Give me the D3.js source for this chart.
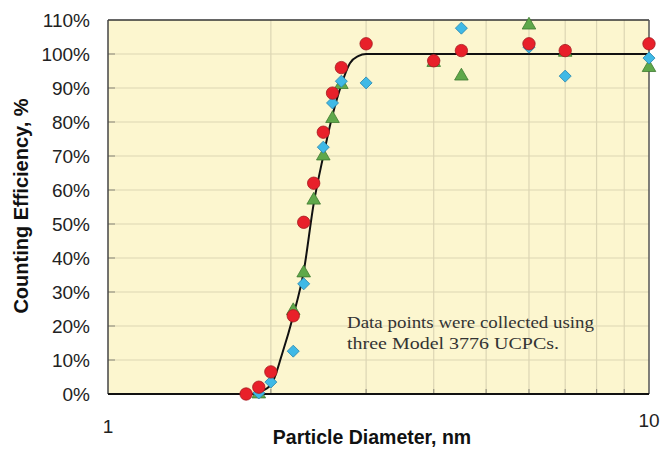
<!DOCTYPE html>
<html>
<head>
<meta charset="utf-8">
<script src="https://cdn.jsdelivr.net/npm/d3@7"></script>
<style>
  body { margin: 0; background: #fff; }
  svg { display: block; }
</style>
</head>
<body>
<svg id="chart" width="662" height="449"></svg>
<script>
// particle diameters (nm) where the three counters were measured
let diameters = [1.8, 1.9, 2.0, 2.2, 2.3, 2.4, 2.5, 2.6, 2.7, 3.0, 4.0, 4.5, 6.0, 7.0, 10];
let redEff   = [0, 2, 6.5, 23, 50.5, 62, 77, 88.5, 96, 103, 98, 101, 103, 101, 103];
let blueEff  = [null, 0.3, 3.5, 12.6, 32.4, null, 72.6, 85.6, 92, 91.5, 98, 107.6, 102, 93.5, 98.8];
let greenEff = [null, 0, null, 24.5, 35.6, 57, 70, 81, 91, null, 97.5, 93.5, 108.5, 100.5, 96];

// fitted curve
let fitX = [1, 1.85, 1.9, 2.0, 2.1, 2.2, 2.3, 2.4, 2.5, 2.6, 2.7, 2.8, 2.9, 3.0, 10];
let fitY = [0, 0, 0.6, 2.6, 12, 23, 36, 56, 70, 82, 91, 97.3, 99.4, 100, 100];

let yTicks = [0, 10, 20, 30, 40, 50, 60, 70, 80, 90, 100, 110];
let xGrid = [2, 3, 4, 5, 6, 7, 8, 9];
let xLabels = [1, 10];

let margin = {top: 20, right: 13, bottom: 55, left: 108};
let width = 662 - margin.left - margin.right;
let height = 449 - margin.top - margin.bottom;

let svg = d3.select("#chart");
let g = svg.append("g").attr("transform", `translate(${margin.left},${margin.top})`);

let x = d3.scaleLog().domain([1, 10]).range([0, width]);
let y = d3.scaleLinear().domain([0, 110]).range([height, 0]);

g.append("rect")
  .attr("width", width).attr("height", height)
  .attr("fill", "#fcf6cf");

// grid
g.selectAll("line.hgrid")
  .data(yTicks.slice(1, -1))
  .enter().append("line")
  .attr("x1", 0).attr("x2", width)
  .attr("y1", d => y(d)).attr("y2", d => y(d))
  .attr("stroke", "#dcd6b4").attr("stroke-width", 1.2);

g.selectAll("line.vgrid")
  .data(xGrid)
  .enter().append("line")
  .attr("x1", d => x(d)).attr("x2", d => x(d))
  .attr("y1", 0).attr("y2", height)
  .attr("stroke", "#dcd6b4").attr("stroke-width", 1.2);

// small inner ticks
g.selectAll("line.ytick")
  .data(yTicks.slice(1, -1))
  .enter().append("line")
  .attr("x1", 0).attr("x2", 7)
  .attr("y1", d => y(d)).attr("y2", d => y(d))
  .attr("stroke", "#9a9684").attr("stroke-width", 1.2);

g.selectAll("line.xtick")
  .data(xGrid)
  .enter().append("line")
  .attr("x1", d => x(d)).attr("x2", d => x(d))
  .attr("y1", height).attr("y2", height - 5)
  .attr("stroke", "#9a9684").attr("stroke-width", 1.2);

// frame
g.append("line").attr("x1", 0).attr("x2", width).attr("y1", 0).attr("y2", 0)
  .attr("stroke", "#333").attr("stroke-width", 1.5);
g.append("line").attr("x1", width).attr("x2", width).attr("y1", 0).attr("y2", height)
  .attr("stroke", "#555").attr("stroke-width", 1.5);
g.append("line").attr("x1", 0).attr("x2", 0).attr("y1", 0).attr("y2", height)
  .attr("stroke", "#444").attr("stroke-width", 1.5);

// fitted line
let fit = fitX.map((d, i) => [d, fitY[i]]);
g.append("path")
  .datum(fit)
  .attr("fill", "none")
  .attr("stroke", "#111")
  .attr("stroke-width", 2)
  .attr("d", d3.line().x(d => x(d[0])).y(d => y(d[1])).curve(d3.curveMonotoneX));

g.append("line").attr("x1", 0).attr("x2", width).attr("y1", height).attr("y2", height)
  .attr("stroke", "#111").attr("stroke-width", 2.2);

function pts(vals) {
  return diameters.map((d, i) => ({d: d, v: vals[i]})).filter(p => p.v !== null);
}

// green triangles (bottom layer)
g.selectAll("path.tri")
  .data(pts(greenEff))
  .enter().append("path")
  .attr("transform", d => `translate(${x(d.d)},${y(d.v)})`)
  .attr("d", d3.symbol().type(d3.symbolTriangle).size(80))
  .attr("fill", "#5fa84a")
  .attr("stroke", "#3d7a30").attr("stroke-width", 0.8);

// blue diamonds
g.selectAll("path.dia")
  .data(pts(blueEff))
  .enter().append("path")
  .attr("transform", d => `translate(${x(d.d)},${y(d.v)}) rotate(45)`)
  .attr("d", d3.symbol().type(d3.symbolSquare).size(72))
  .attr("fill", "#3fb9e6")
  .attr("stroke", "#2a88b0").attr("stroke-width", 0.8);

// red circles (top)
g.selectAll("circle.red")
  .data(pts(redEff))
  .enter().append("circle")
  .attr("cx", d => x(d.d)).attr("cy", d => y(d.v))
  .attr("r", 6.2)
  .attr("fill", "#e8202a")
  .attr("stroke", "#a31a1f").attr("stroke-width", 0.8);

// y tick labels
g.selectAll("text.ylab")
  .data(yTicks)
  .enter().append("text")
  .attr("x", -18).attr("y", d => y(d))
  .attr("dy", "0.36em")
  .attr("text-anchor", "end")
  .attr("font-family", "Liberation Sans, Arial, sans-serif")
  .attr("font-size", 19)
  .attr("fill", "#222")
  .text(d => d + "%");

// x tick labels
g.selectAll("text.xlab")
  .data(xLabels)
  .enter().append("text")
  .attr("x", d => x(d)).attr("y", d => d === 1 ? height + 39 : height + 33)
  .attr("text-anchor", "middle")
  .attr("font-family", "Liberation Sans, Arial, sans-serif")
  .attr("font-size", 19)
  .attr("fill", "#222")
  .text(d => d);

// axis titles
svg.append("text")
  .attr("x", 372).attr("y", 444)
  .attr("text-anchor", "middle")
  .attr("font-family", "Liberation Sans, Arial, sans-serif")
  .attr("font-weight", "bold")
  .attr("font-size", 19.5)
  .attr("fill", "#111")
  .text("Particle Diameter, nm");

svg.append("text")
  .attr("transform", "translate(28,206) rotate(-90)")
  .attr("text-anchor", "middle")
  .attr("font-family", "Liberation Sans, Arial, sans-serif")
  .attr("font-weight", "bold")
  .attr("font-size", 20)
  .attr("fill", "#111")
  .text("Counting Efficiency, %");

// note
let note = ["Data points were collected using", "three Model 3776 UCPCs."];
let noteLen = [247, 212];
g.selectAll("text.note")
  .data(note)
  .enter().append("text")
  .attr("x", 239).attr("y", (d, i) => 308 + i * 21)
  .attr("font-family", "Liberation Serif, DejaVu Serif, serif")
  .attr("font-size", 17.5)
  .attr("fill", "#333")
  .attr("textLength", (d, i) => noteLen[i])
  .attr("lengthAdjust", "spacingAndGlyphs")
  .text(d => d);
</script>
</body>
</html>
